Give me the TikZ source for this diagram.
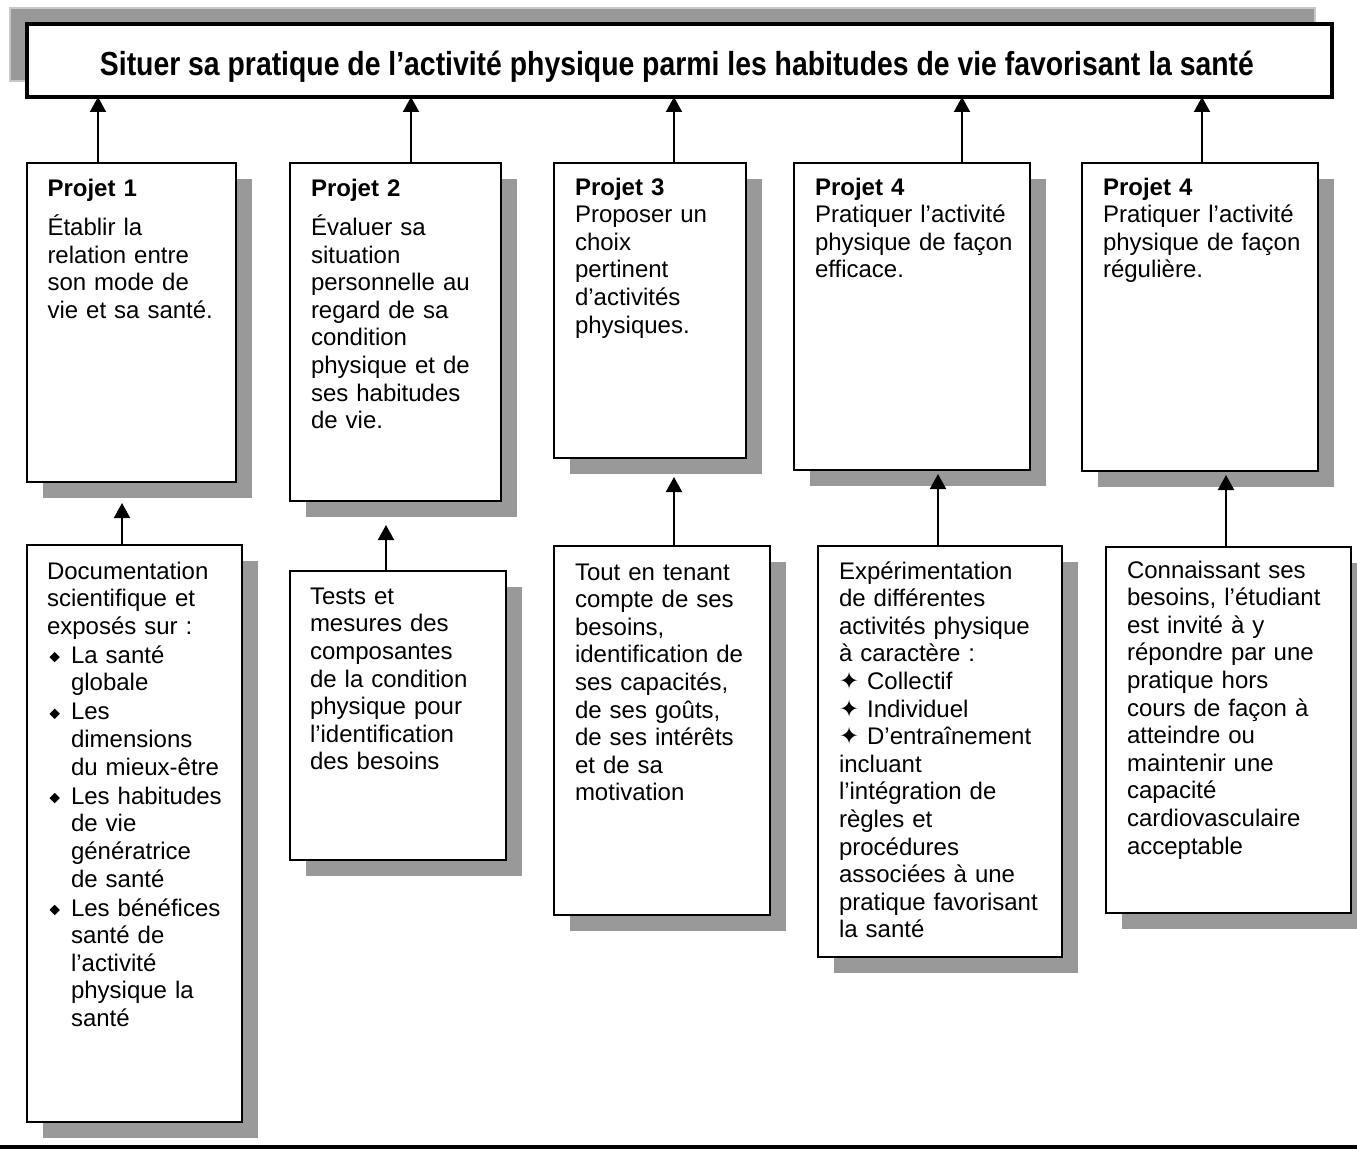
\documentclass[tikz,border=0pt]{standalone}
\usepackage{fontspec}
\setmainfont{Liberation Sans}
\newfontfamily\dejavu{DejaVu Sans}
\usepackage{graphicx}
\usetikzlibrary{arrows.meta,shadows}
\newdimen\upx \upx=0.75pt
\definecolor{shadowgray}{HTML}{999999}
\definecolor{edgegray}{HTML}{C8C8C8}
\newcommand\dbul{\makebox[24\upx][l]{\hspace{2.5\upx}\raisebox{1\upx}{\rotatebox{45}{\rule{7.3\upx}{7.3\upx}}}}}
\newcommand\hang{\hspace*{24\upx}}
\newcommand\starb{{\dejavu ✦}}
\begin{document}
\begin{tikzpicture}[x=0.75pt,y=-0.75pt,
  box/.style={draw, line width=1.5pt, fill=white, inner sep=0pt, outer sep=0pt, anchor=north west,
    drop shadow={shadow xshift=12pt, shadow yshift=-12pt, fill=shadowgray, opacity=1}},
  txt/.style={anchor=north west, inner sep=0pt, outer sep=0pt, text width=187.5pt, align=left,
    font=\fontsize{18}{20.7}\selectfont, execute at begin node=\strut},
  arr/.style={line width=1.5pt, -{Triangle[width=12pt,length=11.25pt]}},
  titlebox/.style={draw, line width=2.6pt, fill=white, inner sep=0pt, outer sep=0pt, anchor=north west,
    general shadow={shadow xshift=-12.75pt, shadow yshift=12pt, fill=shadowgray, draw=edgegray, line width=1.1pt, opacity=1}},
  titletext/.style={inner sep=0pt, anchor=base, font=\fontsize{25}{28}\selectfont\bfseries}
]
\useasboundingbox (0,0) rectangle (1357,1149);

% title
\node[titlebox, minimum width=978.75pt, minimum height=54.75pt] (title) at (27,24) {};
\node[titletext] (ttl) at ([xshift=-1.9pt,yshift=-11.25pt]title.center)
  {\resizebox{865.5pt}{\height}{Situer sa pratique de l’activité physique parmi les habitudes de vie favorisant la santé}};

% project boxes
\node[box, minimum width=156.75pt, minimum height=239.25pt] (p1) at (27,163) {};
\node[box, minimum width=158.25pt, minimum height=253.5pt] (p2) at (290,163) {};
\node[box, minimum width=144pt, minimum height=221.25pt] (p3) at (554,163) {};
\node[box, minimum width=177pt, minimum height=230.25pt] (p4) at (794,163) {};
\node[box, minimum width=177pt, minimum height=231pt] (p5) at (1082,163) {};

\node[txt] (tp1) at (47.5,176.7) {\textbf{Projet 1}\\[6.75pt]Établir la\\relation entre\\son mode de\\vie et sa santé.};
\node[txt] (tp2) at (311,176.7) {\textbf{Projet 2}\\[6.75pt]Évaluer sa\\situation\\personnelle au\\regard de sa\\condition\\physique et de\\ses habitudes\\de vie.};
\node[txt] (tp3) at (575,175.7) {\textbf{Projet 3}\\Proposer un\\choix\\pertinent\\d’activités\\physiques.};
\node[txt] (tp4) at (815,175.7) {\textbf{Projet 4}\\Pratiquer l’activité\\physique de façon\\efficace.};
\node[txt] (tp5) at (1103,175.7) {\textbf{Projet 4}\\Pratiquer l’activité\\physique de façon\\régulière.};

% bottom boxes
\node[box, minimum width=161.25pt, minimum height=432.75pt] (b1) at (27,545) {};
\node[box, minimum width=162pt, minimum height=216.75pt] (b2) at (290,571) {};
\node[box, minimum width=162pt, minimum height=276.75pt] (b3) at (554,546) {};
\node[box, minimum width=183pt, minimum height=308.25pt] (b4) at (818,546) {};
\node[box, minimum width=183.75pt, minimum height=274.5pt] (b5) at (1106,547) {};

\node[txt] (tb1) at (47,559.7) {Documentation\\scientifique et\\exposés sur :\\[1.1pt]
  \dbul La santé\\\hang globale\\[1.1pt]
  \dbul Les\\\hang dimensions\\\hang du mieux-être\\[1.1pt]
  \dbul Les habitudes\\\hang de vie\\\hang génératrice\\\hang de santé\\[1.1pt]
  \dbul Les bénéfices\\\hang santé de\\\hang l’activité\\\hang physique la\\\hang santé};
\node[txt] (tb2) at (310,585) {Tests et\\mesures des\\composantes\\de la condition\\physique pour\\l’identification\\des besoins};
\node[txt] (tb3) at (575,560.7) {Tout en tenant\\compte de ses\\besoins,\\identification de\\ses capacités,\\de ses goûts,\\de ses intérêts\\et de sa\\motivation};
\node[txt] (tb4) at (839,559.7) {Expérimentation\\de différentes\\activités physique\\à caractère :\\\starb{} Collectif\\\starb{} Individuel\\\starb{} D’entraînement\\incluant\\l’intégration de\\règles et\\procédures\\associées à une\\pratique favorisant\\la santé};
\node[txt] (tb5) at (1127,558.7) {Connaissant ses\\besoins, l’étudiant\\est invité à y\\répondre par une\\pratique hors\\cours de façon à\\atteindre ou\\maintenir une\\capacité\\cardiovasculaire\\acceptable};

% arrow columns and tips
\coordinate (x1) at (98,0);
\coordinate (x2) at (411,0);
\coordinate (x3) at (674,0);
\coordinate (x4) at (962,0);
\coordinate (x5) at (1202,0);
\coordinate (tip1) at (122,503);
\coordinate (tip2) at (386,525);
\coordinate (tip3) at (674,477);
\coordinate (tip4) at (938,474);
\coordinate (tip5) at (1226,475);

\draw[arr] (p1.north -| x1) -- (title.south -| x1);
\draw[arr] (p2.north -| x2) -- (title.south -| x2);
\draw[arr] (p3.north -| x3) -- (title.south -| x3);
\draw[arr] (p4.north -| x4) -- (title.south -| x4);
\draw[arr] (p5.north -| x5) -- (title.south -| x5);

\draw[arr] (b1.north -| tip1) -- (tip1);
\draw[arr] (b2.north -| tip2) -- (tip2);
\draw[arr] (b3.north -| tip3) -- (tip3);
\draw[arr] (b4.north -| tip4) -- (tip4);
\draw[arr] (b5.north -| tip5) -- (tip5);

% bottom rule
\fill (0,1145) rectangle (1357,1149);
\end{tikzpicture}
\end{document}
